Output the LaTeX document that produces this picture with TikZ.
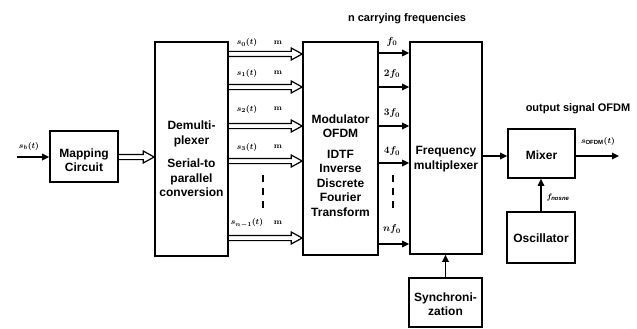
\documentclass[tikz,border=0pt]{standalone}
\usepackage{fontspec}
\setmainfont{Liberation Sans}
\usetikzlibrary{arrows.meta,calc}
\tikzset{
 box/.style={draw, line width=1.6pt, inner sep=0pt},
 lbl/.style={font=\bfseries\fontsize{12}{14.5}\selectfont, align=center, inner sep=0pt},
 head/.style={font=\bfseries\fontsize{11}{13}\selectfont, inner sep=0pt},
 sig/.style={font=\boldmath\fontsize{8}{9}\selectfont, inner sep=0pt},
 frq/.style={font=\boldmath\fontsize{10}{12}\selectfont, inner sep=0pt},
 arr/.style={line width=1.6pt, -{Triangle[length=7pt,width=6.5pt]}},
 harr/.style={line width=1.2pt, line join=miter},
 dots/.style={line width=2pt, dash pattern=on 7pt off 6pt},
}
\newcommand\hollowarr[2]{\draw[harr] let \p1=(#1), \p2=(#2) in
 (\x1,{\y1+2.6pt}) -- ({\x2-11pt},{\y1+2.6pt}) -- ({\x2-11pt},{\y1+6pt}) -- (\x2,\y1)
 -- ({\x2-11pt},{\y1-6pt}) -- ({\x2-11pt},{\y1-2.6pt}) -- (\x1,{\y1-2.6pt});}
\begin{document}
\begin{tikzpicture}[x=1pt,y=-1pt]
\useasboundingbox (0,0) rectangle (637,329);
% boxes
\node[box, minimum width=68pt, minimum height=51pt] (map) at (84,156.5) {};
\node[box, minimum width=73pt, minimum height=214pt] (demux) at (191.5,149) {};
\node[box, minimum width=75pt, minimum height=213pt] (mod) at (340.5,148.5) {};
\node[box, minimum width=72pt, minimum height=212pt] (fmux) at (446,148) {};
\node[box, minimum width=73pt, minimum height=49pt] (sync) at (445.5,302.5) {};
\node[box, minimum width=67pt, minimum height=49pt] (mixer) at (541.5,153.5) {};
\node[box, minimum width=68pt, minimum height=51pt] (osc) at (541,237.5) {};
% box texts
\node[lbl] (tmap) at (84,160) {Mapping\\Circuit};
\node[lbl] (tdem1) at (191.5,134) {Demulti-\\plexer};
\node[lbl] (tdem2) at (191.5,178) {Serial-to\\parallel\\conversion};
\node[lbl] (tmod1) at (340.5,126) {Modulator\\OFDM};
\node[lbl] (tmod2) at (340.5,183) {IDTF\\Inverse\\Discrete\\Fourier\\Transform};
\node[lbl] (tfmux) at (446,159) {Frequency\\multiplexer};
\node[lbl] (tsync) at (445.5,304) {Synchroni-\\zation};
\node[lbl] (tmix) at (541.5,155) {Mixer};
\node[lbl] (tosc) at (541,238) {Oscillator};
% headings
\node[head] (hcar) at (407,19) {n carrying frequencies};
\node[head] (hout) at (578,109) {output signal OFDM};
% input
\coordinate (in) at (17,157);
\draw[arr] (in) -- (in -| map.west);
\node[sig] (lsb) at (29,146) {$s_b(t)$};
% map -> demux
\coordinate (hm) at (0,157);
\hollowarr{map.east |- hm}{demux.west |- hm}
% demux -> modulator
\foreach \y/\lab/\ly [count=\i] in {54/{s_0(t)}/43, 87/{s_1(t)}/73, 126/{s_2(t)}/109, 161/{s_3(t)}/147, 238/{s_{n-1}(t)}/223}{
  \coordinate (hs\i) at (0,\y);
  \hollowarr{demux.east |- hs\i}{mod.west |- hs\i}
  \node[sig] (ls\i) at (247,\ly) {$\lab$};
  \node[sig] (lm\i) at (278,\ly) {$\mathbf{m}$};
}
\draw[dots] (263,175) -- (263,210);
% modulator -> freq mux
\foreach \y/\lab/\ly [count=\i] in {53/{f_0}/42, 87/{2f_0}/74, 126/{3f_0}/113, 163/{4f_0}/151, 244/{nf_0}/229}{
  \coordinate (fs\i) at (0,\y);
  \draw[arr] (mod.east |- fs\i) -- (fmux.west |- fs\i);
  \node[frq] (lf\i) at (392,\ly) {$\lab$};
}
\draw[dots] (393,175) -- (393,214);
% sync -> fmux
\draw[arr] (sync.north) -- (sync.north |- fmux.south);
% fmux -> mixer
\coordinate (mx) at (0,156);
\draw[arr] (fmux.east |- mx) -- (mixer.west |- mx);
\coordinate (out) at (619,156);
\draw[arr] (mixer.east |- out) -- (out);
\node[sig] (lout) at (598,141) {$s_{\mathrm{OFDM}}(t)$};
% osc -> mixer
\draw[arr] (osc.north) -- (mixer.south -| osc.north);
\node[sig] (lfn) at (558,197) {$f_{\mathit{nosn\acute{e}}}$};
\end{tikzpicture}
\end{document}
